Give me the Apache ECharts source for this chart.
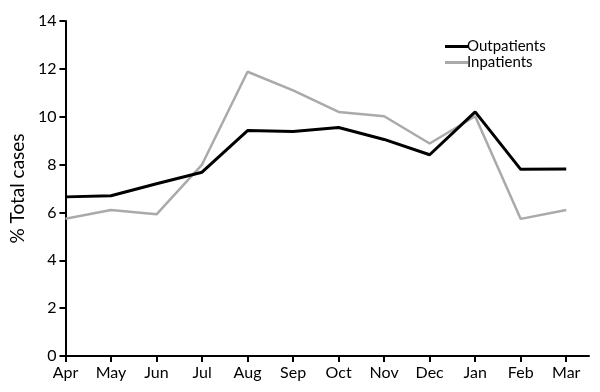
<!DOCTYPE html>
<html><head><meta charset="utf-8">
<script src="https://cdn.jsdelivr.net/npm/echarts@6/dist/echarts.min.js"></script>
<style>html,body{margin:0;padding:0;background:#fff}#c{width:600px;height:392px}</style>
</head><body><div id="c"></div>
<script>
const months = ['Apr','May','Jun','Jul','Aug','Sep','Oct','Nov','Dec','Jan','Feb','Mar'];
const outpatients = [6.65, 6.7, 7.2, 7.68, 9.42, 9.38, 9.55, 9.05, 8.41, 10.2, 7.8, 7.82];
const inpatients = [5.74, 6.1, 5.92, 8.0, 11.88, 11.1, 10.2, 10.02, 8.88, 10.02, 5.73, 6.1];

const font = 'Lato';
const chart = echarts.init(document.getElementById('c'));
const idx = months.map((m, i) => i);
chart.setOption({
  animation: false,
  grid: {left: 63, right: 11, top: 21, bottom: 36, containLabel: false},
  legend: {
    orient: 'vertical', left: 440, top: 34, itemWidth: 23, itemHeight: 3, itemGap: 1, icon: 'rect',
    textStyle: {fontFamily: font, fontSize: 15, color: '#000', padding: [0, 0, 0, -6]},
    data: ['Outpatients', 'Inpatients']
  },
  xAxis: {
    type: 'value', min: 0, max: 11.5,
    axisLine: {lineStyle: {color: '#000', width: 2}},
    axisTick: {show: true, length: 6, lineStyle: {color: '#000', width: 2}, customValues: idx},
    axisLabel: {customValues: idx, formatter: v => months[Math.round(v)], fontFamily: font, fontSize: 16, color: '#000', margin: 9},
    splitLine: {show: false}
  },
  yAxis: {
    type: 'value', min: 0, max: 14, interval: 2,
    name: '% Total cases', nameLocation: 'middle', nameGap: 35, nameRotate: 90,
    nameTextStyle: {fontFamily: font, fontSize: 19, color: '#000'},
    axisLine: {show: true, lineStyle: {color: '#000', width: 2}},
    axisTick: {show: true, length: 6, lineStyle: {color: '#000', width: 2}},
    axisLabel: {fontFamily: font, fontSize: 16, color: '#000', margin: 9, formatter: v => String(v)},
    splitLine: {show: false}
  },
  series: [
    {name: 'Inpatients', type: 'line', symbol: 'none', data: inpatients.map((v, i) => [i, v]),
     lineStyle: {color: '#aaaaaa', width: 2.5}, itemStyle: {color: '#aaaaaa'}, z: 2},
    {name: 'Outpatients', type: 'line', symbol: 'none', data: outpatients.map((v, i) => [i, v]),
     lineStyle: {color: '#000', width: 3}, itemStyle: {color: '#000'}, z: 3}
  ]
});
</script></body></html>
